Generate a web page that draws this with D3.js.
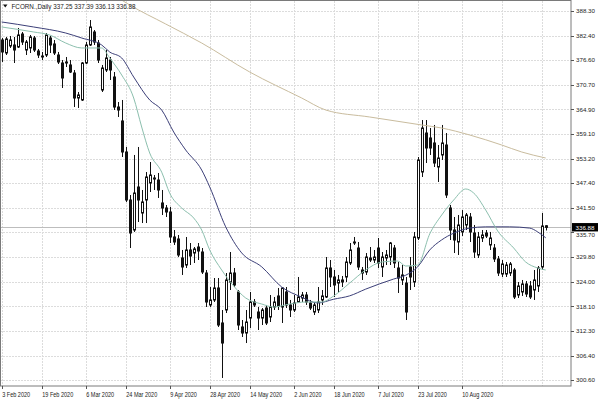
<!DOCTYPE html>
<html><head><meta charset="utf-8">
<script src="https://cdn.jsdelivr.net/npm/d3@7"></script>
<style>html,body{margin:0;padding:0;background:#fff;}svg{display:block;}</style>
</head><body>
<script>
const titleText = "FCORN.,Daily 337.25 337.39 336.13 336.88";
const lastPrice = 336.88;

const openVals = [381.41,378.32,379.98,380.22,379.74,382.83,379.03,379.51,381.88,378.79,377.60,377.84,381.88,380.46,377.84,375.94,376.18,375.47,373.56,367.62,367.15,375.94,380.22,383.31,380.69,369.52,374.28,376.65,372.61,365.48,362.16,354.79,343.38,336.25,346.47,340.29,343.38,347.42,348.37,348.13,342.67,341.48,340.53,334.59,334.11,329.60,327.93,331.50,330.78,332.21,331.02,326.03,318.43,319.62,322.47,314.15,317.24,323.89,326.03,321.52,313.20,311.77,315.33,319.14,316.76,315.33,317.71,315.57,317.95,320.57,317.95,321.52,318.43,317.24,319.14,320.09,320.80,318.90,316.76,317.24,319.62,320.33,327.22,325.08,323.65,323.89,325.08,328.41,333.16,331.97,326.74,326.27,329.12,329.12,331.97,327.46,329.60,329.83,331.97,327.22,324.37,323.65,327.46,323.89,334.35,350.03,359.30,358.12,356.93,351.22,354.08,356.45,341.48,336.25,333.40,335.78,337.44,339.34,335.54,330.31,334.35,335.54,332.69,331.97,329.36,325.79,325.79,326.03,326.74,320.80,321.52,323.42,322.94,321.99,322.94,327.46,337.25];
const highVals = [381.88,382.12,382.36,382.12,384.26,383.31,381.41,382.60,382.36,379.27,378.56,383.07,382.36,381.41,378.56,376.65,377.37,376.65,374.28,369.05,376.18,380.93,386.16,383.78,381.41,375.47,379.03,377.37,373.80,366.67,367.15,355.98,344.57,354.08,355.98,345.76,350.03,352.41,349.32,349.80,345.76,342.19,341.72,336.25,335.06,331.50,334.59,333.16,332.21,333.16,331.97,326.74,322.70,324.84,324.84,317.24,326.03,331.02,327.22,321.99,314.86,317.24,321.52,319.85,317.95,317.71,318.43,320.80,320.33,322.47,322.70,322.70,319.62,320.80,325.08,321.52,321.52,319.62,318.90,322.70,321.99,329.83,329.12,326.74,325.56,325.32,329.83,333.16,334.59,333.40,327.46,330.78,332.21,331.50,334.35,331.02,331.50,333.40,332.69,328.64,327.93,325.08,329.83,335.78,353.60,362.39,362.39,360.49,361.21,356.45,361.21,359.30,342.19,339.34,339.81,340.99,340.29,340.29,337.44,335.78,336.25,336.25,335.78,332.92,330.07,329.12,328.64,328.64,327.22,323.89,324.37,324.13,324.13,326.74,327.69,340.29,337.39];
const lowVals = [376.18,377.84,379.51,375.94,379.51,380.22,377.84,378.32,378.56,377.13,376.65,377.37,378.32,377.84,375.70,370.00,374.99,373.56,365.48,365.25,366.91,375.70,379.98,380.22,375.94,369.05,373.80,371.90,364.77,363.11,353.60,342.91,331.97,335.78,338.15,337.91,337.91,345.28,345.76,343.86,339.81,339.34,333.16,332.69,329.83,325.56,327.22,327.93,328.41,329.12,325.79,317.95,317.95,319.14,313.20,301.08,316.52,321.99,322.70,312.48,310.82,309.39,312.96,317.95,312.48,313.67,313.67,314.38,317.24,317.24,314.15,317.71,315.57,316.76,318.90,319.14,318.43,317.24,316.05,316.52,318.43,320.09,322.70,320.33,321.52,322.70,323.89,327.93,332.69,326.74,324.37,325.56,328.64,328.41,327.22,325.08,327.93,327.93,327.22,321.28,323.18,314.86,321.99,322.70,333.87,348.85,352.17,354.08,351.22,347.66,352.89,343.86,333.87,330.78,330.31,334.82,336.25,333.40,329.60,329.60,333.40,334.35,331.50,328.64,325.32,325.08,325.08,325.32,319.85,320.09,320.57,320.33,319.85,319.62,321.52,326.74,336.13];
const closeVals = [378.56,381.65,381.41,379.03,382.60,380.93,380.93,382.12,379.03,377.84,377.37,382.60,380.22,378.32,376.18,372.38,375.94,373.80,367.62,368.34,375.94,380.22,384.50,380.93,376.65,374.75,377.13,374.28,365.48,364.77,354.79,343.38,335.54,345.04,343.38,342.91,348.85,349.32,348.61,345.76,341.48,340.53,334.59,333.40,330.31,327.46,331.50,330.07,331.74,331.26,326.27,319.14,319.62,322.47,313.67,309.39,324.37,326.03,323.18,313.67,311.77,314.38,319.14,318.43,315.33,317.24,314.15,317.95,319.14,318.19,322.47,318.43,317.24,318.90,320.33,320.80,319.14,317.71,318.43,319.14,320.57,327.22,325.08,323.18,324.37,324.37,328.64,331.50,333.40,327.46,326.03,329.83,329.60,329.83,328.41,329.83,330.31,333.16,328.41,324.84,325.56,316.76,325.08,334.59,352.89,360.49,355.74,355.74,352.17,353.36,356.93,344.57,336.25,333.87,337.44,339.34,339.81,335.78,331.02,334.59,335.06,334.82,334.35,329.36,326.03,328.17,327.93,328.17,320.33,322.94,323.42,321.04,320.33,324.37,327.22,337.20,336.88];

// moving averages, read at selected bars
const maFastIdx = [0,8,12,16,20,25,27,30,33,35,37,40,42,45,48,50,52,55,58,61,65,68,72,76,80,83,87,91,95,99,101,104,107,110,113,116,118,121,124,128,131,134,136];
const maFastVal = [384.50,383.31,382.60,380.69,379.51,379.51,377.13,373.09,367.62,360.73,354.55,350.00,345.00,341.48,339.10,336.25,331.50,326.74,322.94,320.09,318.66,317.95,318.66,319.14,319.14,320.57,323.65,326.74,328.64,328.88,327.69,327.93,335.30,339.81,343.38,346.00,345.04,341.00,336.01,331.97,328.64,327.22,326.74];
const maMidIdx = [0,8,16,20,25,27,30,33,37,40,43,46,50,52,56,60,65,70,75,79,83,87,91,98,101,104,107,110,113,117,121,127,132,134,136];
const maMidVal = [385.69,384.50,383.07,381.88,380.22,378.56,377.13,372.61,367.15,364.77,359.54,355.26,350.50,346.50,337.00,330.80,327.50,322.70,320.30,318.90,319.80,320.60,322.20,324.60,325.50,327.50,331.50,333.90,335.50,336.70,337.00,337.00,336.70,335.80,334.40];
const maSlowIdx = [28,32,41,50,62,75,81,92,105,110,117,125,130,136];
const maSlowVal = [392.10,389.73,385.21,380.69,373.80,367.62,364.77,363.11,361.21,360.49,358.83,356.45,354.79,353.36];

const yTickVals = [388.30,382.40,376.60,370.70,364.90,359.10,353.20,347.40,341.50,335.70,329.80,324.00,318.10,312.30,306.40,300.60];
const dateLabels = ["3 Feb 2020","19 Feb 2020","6 Mar 2020","24 Mar 2020","9 Apr 2020","28 Apr 2020","14 May 2020","2 Jun 2020","18 Jun 2020","7 Jul 2020","23 Jul 2020","10 Aug 2020"];
const dateBarIdx = [0,10,21,31,42,52,62,73,83,94,104,115];
const extraGridIdx = [125,135];

const W = 600, H = 400;
const plot = {left:0, top:1, right:571, bottom:386};
const n = openVals.length;

const svg = d3.select("body").append("svg").attr("width", W).attr("height", H)
  .style("font-family", "'Liberation Sans', Arial, sans-serif");
svg.append("rect").attr("width", W).attr("height", H).attr("fill", "#fff");

const x = d3.scaleLinear().domain([0, n - 1]).range([1.7, 545.7]);
const y = d3.scaleLinear().domain([300.6, 388.3]).range([380, 11]);

svg.append("clipPath").attr("id", "clip").append("rect")
  .attr("x", plot.left).attr("y", plot.top)
  .attr("width", plot.right - plot.left).attr("height", plot.bottom - plot.top);

const g = svg.append("g").attr("clip-path", "url(#clip)");

// grid
const gridCol = "#dcdcdc";
g.selectAll("line.hg").data(yTickVals).enter().append("line")
  .attr("x1", plot.left).attr("x2", plot.right)
  .attr("y1", d => Math.round(y(d)) + 0.5).attr("y2", d => Math.round(y(d)) + 0.5)
  .attr("stroke", gridCol).attr("stroke-width", 1).attr("stroke-dasharray", "2,1");
g.selectAll("line.vg").data(dateBarIdx.concat(extraGridIdx)).enter().append("line")
  .attr("y1", plot.top).attr("y2", plot.bottom)
  .attr("x1", d => Math.round(x(d)) + 0.5).attr("x2", d => Math.round(x(d)) + 0.5)
  .attr("stroke", gridCol).attr("stroke-width", 1).attr("stroke-dasharray", "2,1");

// bid line
g.append("line").attr("x1", plot.left).attr("x2", plot.right)
  .attr("y1", Math.round(y(lastPrice)) + 0.5).attr("y2", Math.round(y(lastPrice)) + 0.5)
  .attr("stroke", "#bdbdbd").attr("stroke-width", 1);

// candles
const idx = d3.range(n);
const candleCol = "#111";
const cg = g.append("g");
cg.selectAll("line.wick").data(idx).enter().append("line")
  .attr("x1", i => Math.round(x(i)) + 0.5).attr("x2", i => Math.round(x(i)) + 0.5)
  .attr("y1", i => y(highVals[i])).attr("y2", i => y(lowVals[i]))
  .attr("stroke", candleCol).attr("stroke-width", 1);
cg.selectAll("rect.body").data(idx).enter().append("rect")
  .attr("x", i => Math.round(x(i)) - 0.5)
  .attr("width", 2)
  .attr("y", i => y(Math.max(openVals[i], closeVals[i])))
  .attr("height", i => Math.max(0.5, Math.abs(y(openVals[i]) - y(closeVals[i]))))
  .attr("fill", i => closeVals[i] >= openVals[i] ? "#fff" : candleCol)
  .attr("stroke", candleCol).attr("stroke-width", 1);

// moving averages
function maLine(ix, vals, col) {
  const line = d3.line().x((d, k) => x(ix[k])).y(d => y(d)).curve(d3.curveMonotoneX);
  g.append("path").datum(vals).attr("d", line)
    .attr("fill", "none").attr("stroke", col).attr("stroke-width", 1);
}
maLine(maSlowIdx, maSlowVal, "#c9bc9e");
maLine(maMidIdx, maMidVal, "#3c3f78");
maLine(maFastIdx, maFastVal, "#8cbfae");

// frame
svg.append("rect").attr("x", 0.5).attr("y", 0.5)
  .attr("width", plot.right - 0.5).attr("height", plot.bottom - 0.5)
  .attr("fill", "none").attr("stroke", "#7a7a7a").attr("stroke-width", 1);

// y axis labels
const ly = y(lastPrice);
const ya = svg.append("g");
ya.selectAll("line").data(yTickVals).enter().append("line")
  .attr("x1", plot.right).attr("x2", plot.right + 3)
  .attr("y1", d => Math.round(y(d)) + 0.5).attr("y2", d => Math.round(y(d)) + 0.5)
  .attr("stroke", "#555");
ya.selectAll("text").data(yTickVals).enter().append("text")
  .attr("x", 576)
  .attr("y", d => {
    const yy = y(d) + 2.2;
    // keep the label just clear of the last-price box
    return Math.abs(y(d) - ly) < 8 ? Math.max(yy, ly + 9.2) : yy;
  })
  .attr("font-size", 6.2).attr("fill", "#222")
  .text(d => d.toFixed(2));

// x axis labels
const xa = svg.append("g");
xa.selectAll("line").data(dateBarIdx).enter().append("line")
  .attr("x1", d => Math.round(x(d)) + 0.5).attr("x2", d => Math.round(x(d)) + 0.5)
  .attr("y1", plot.bottom).attr("y2", plot.bottom + 3)
  .attr("stroke", "#555");
xa.selectAll("text").data(dateBarIdx).enter().append("text")
  .attr("transform", (d, k) => `translate(${x(d) + 0.5},396.5) scale(0.84,1)`)
  .attr("font-size", 6.6).attr("fill", "#222")
  .text((d, k) => dateLabels[k]);

// last price box
svg.append("rect").attr("x", 572).attr("y", ly - 4.3).attr("width", 26).attr("height", 8.4).attr("fill", "#000");
svg.append("text").attr("x", 575.5).attr("y", ly + 2.2).attr("font-size", 6.2)
  .attr("fill", "#fff").text(lastPrice.toFixed(2));

// title
svg.append("path").attr("d", "M3,4.5 L7.5,4.5 L5.25,7.5 Z").attr("fill", "#111");
svg.append("text").attr("x", 11.5).attr("y", 8.6).attr("font-size", 6.3)
  .attr("fill", "#222").text(titleText);
</script>
</body></html>
